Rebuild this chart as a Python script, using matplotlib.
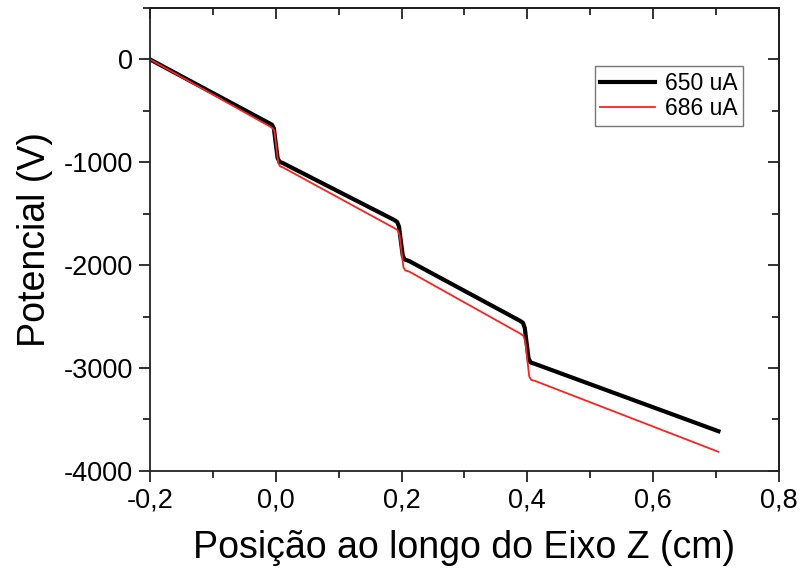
import matplotlib
matplotlib.use("Agg")
import matplotlib.pyplot as plt
from matplotlib.ticker import MultipleLocator, FuncFormatter

plt.rcParams['font.family'] = ['Liberation Sans', 'DejaVu Sans']

# Position along Z axis (cm)
x_650 = [-0.2, -0.012, -0.006, -0.003, 0.0, 0.003, 0.006, 0.012,
         0.188, 0.193, 0.196, 0.199, 0.202, 0.205, 0.212,
         0.388, 0.393, 0.396, 0.399, 0.402, 0.405, 0.412, 0.704]
v_650 = [0, -615, -635, -670, -820, -960, -995, -1010,
         -1560, -1580, -1625, -1770, -1910, -1945, -1960,
         -2540, -2560, -2610, -2760, -2905, -2945, -2960, -3615]

x_686 = [-0.2, -0.010, -0.005, -0.002, 0.001, 0.004, 0.007, 0.012,
         0.190, 0.194, 0.197, 0.200, 0.203, 0.206, 0.212,
         0.390, 0.394, 0.397, 0.400, 0.403, 0.406, 0.412, 0.704]
v_686 = [0, -650, -668, -700, -860, -1010, -1040, -1052,
         -1645, -1662, -1710, -1870, -2020, -2052, -2062,
         -2670, -2688, -2750, -2920, -3080, -3115, -3125, -3815]

labels = ['650 uA', '686 uA']

fig = plt.figure(figsize=(8, 5.7), dpi=100)
ax = fig.add_axes([0.1875, 0.174, 0.786, 0.812])

ax.plot(x_650, v_650, color='black', lw=3.0, label=labels[0], solid_joinstyle='round')
ax.plot(x_686, v_686, color='#ff2020', lw=1.3, label=labels[1])

ax.set_xlim(-0.2, 0.8)
ax.set_ylim(-4000, 500)
ax.xaxis.set_major_locator(MultipleLocator(0.2))
ax.xaxis.set_minor_locator(MultipleLocator(0.1))
ax.yaxis.set_major_locator(MultipleLocator(1000))
ax.yaxis.set_minor_locator(MultipleLocator(500))
ax.xaxis.set_major_formatter(FuncFormatter(lambda v, p: f"{v:.1f}".replace('.', ',').replace('-0,0', '0,0')))
ax.yaxis.set_major_formatter(FuncFormatter(lambda v, p: f"{int(round(v))}"))

for s in ax.spines.values():
    s.set_linewidth(1.3)
    s.set_color('#222222')

ax.tick_params(which='both', direction='out', top=False, right=False, colors='#222222',
               labelsize=19.5, labelcolor='black')
ax.tick_params(which='major', length=8, width=1.3, pad=4)
ax.tick_params(which='minor', length=5, width=1.3)

# mirrored inner ticks on top and right
ax2 = ax.secondary_xaxis('top')
ax2.xaxis.set_major_locator(MultipleLocator(0.2))
ax2.xaxis.set_minor_locator(MultipleLocator(0.1))
ax2.tick_params(which='both', direction='in', labeltop=False, colors='#222222')
ax2.tick_params(which='major', length=8, width=1.3)
ax2.tick_params(which='minor', length=5, width=1.3)
ax2.spines['top'].set_linewidth(1.3)
ax3 = ax.secondary_yaxis('right')
ax3.yaxis.set_major_locator(MultipleLocator(1000))
ax3.yaxis.set_minor_locator(MultipleLocator(500))
ax3.tick_params(which='both', direction='in', labelright=False, colors='#222222')
ax3.tick_params(which='major', length=8, width=1.3)
ax3.tick_params(which='minor', length=5, width=1.3)
ax3.spines['right'].set_linewidth(1.3)

ax.set_xlabel('Posição ao longo do Eixo Z (cm)', fontsize=27, labelpad=12)
ax.set_ylabel('Potencial (V)', fontsize=27, labelpad=8)

leg = ax.legend(loc='upper right', bbox_to_anchor=(0.943, 0.874), fontsize=16.5,
                frameon=True, fancybox=False, handlelength=2.4, handletextpad=0.4,
                borderpad=0.25, labelspacing=0.1, borderaxespad=0)
leg.get_frame().set_edgecolor('#555555')
leg.get_frame().set_linewidth(1.0)

fig.savefig('out.png', dpi=100)
